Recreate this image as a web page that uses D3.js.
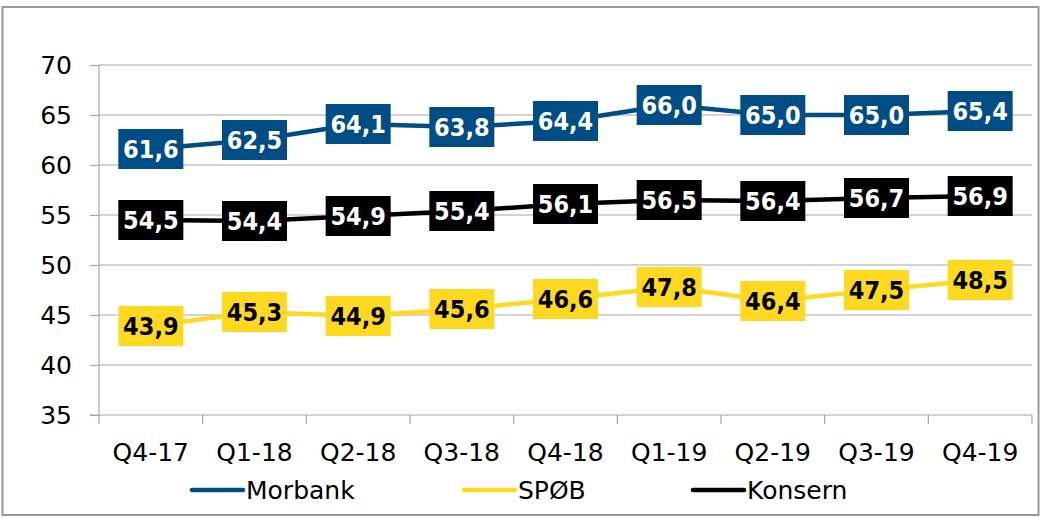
<!DOCTYPE html>
<html><head><meta charset="utf-8">
<script src="https://cdn.jsdelivr.net/npm/d3@7"></script>
<style>body{margin:0;background:#fff}svg{display:block}</style>
</head><body>
<svg id="c" width="1043" height="518"></svg>
<script>
const categories = ["Q4-17","Q1-18","Q2-18","Q3-18","Q4-18","Q1-19","Q2-19","Q3-19","Q4-19"];
const morbank = [61.6,62.5,64.1,63.8,64.4,66.0,65.0,65.0,65.4];
const spob    = [43.9,45.3,44.9,45.6,46.6,47.8,46.4,47.5,48.5];
const konsern = [54.5,54.4,54.9,55.4,56.1,56.5,56.4,56.7,56.9];
const yTicks = [35,40,45,50,55,60,65,70];
const seriesNames = ["Morbank","SPØB","Konsern"];

const series = [
  {name: seriesNames[0], values: morbank, color: "#004C84", text: "#ffffff"},
  {name: seriesNames[1], values: spob, color: "#FFD920", text: "#000000"},
  {name: seriesNames[2], values: konsern, color: "#000000", text: "#ffffff"}
];

const svg = d3.select("#c");
const fam = "'DejaVu Sans', Verdana, sans-serif";
const pL = 99, pR = 1032, pT = 65, pB = 415;

svg.append("rect").attr("x",2.5).attr("y",7).attr("width",1036).attr("height",508)
  .attr("fill","none").attr("stroke","#999").attr("stroke-width",2);

const x = d3.scaleBand().domain(categories).range([pL,pR]).padding(0);
const y = d3.scaleLinear().domain([35,70]).range([pB,pT]);

// gridlines
svg.append("g").selectAll("line").data(yTicks.filter(t=>t>35)).join("line")
  .attr("x1",pL).attr("x2",pR).attr("y1",d=>y(d)).attr("y2",d=>y(d))
  .attr("stroke","#a6a6a6").attr("stroke-width",1.2);

const ya = svg.append("g").attr("transform",`translate(${pL},0)`)
  .call(d3.axisLeft(y).tickValues(yTicks).tickSize(9).tickPadding(18).tickFormat(d3.format("d")));
ya.select(".domain").attr("stroke","#a6a6a6").attr("stroke-width",1.2).attr("d",`M0,${pT}V${pB}`);
ya.selectAll(".tick line").attr("stroke","#a6a6a6").attr("stroke-width",1.2);
ya.selectAll("text").attr("font-family",fam).attr("font-size",25).attr("fill","#000");

// x axis
const xa = svg.append("g").attr("transform",`translate(0,${pB})`);
xa.append("line").attr("x1",pL-9).attr("x2",pR).attr("y1",0).attr("y2",0)
  .attr("stroke","#a6a6a6").attr("stroke-width",1.2);
const bounds = categories.map(c=>x(c)).concat([pR]);
xa.selectAll("line.t").data(bounds).join("line").attr("class","t")
  .attr("x1",d=>d).attr("x2",d=>d).attr("y1",0).attr("y2",9)
  .attr("stroke","#a6a6a6").attr("stroke-width",1.2);
xa.selectAll("text").data(categories).join("text")
  .attr("x",d=>x(d)+x.bandwidth()/2).attr("y",46)
  .attr("text-anchor","middle").attr("font-family",fam).attr("font-size",25).attr("fill","#000")
  .text(d=>d);

const cx = (d,i)=>x(categories[i])+x.bandwidth()/2;
const line = d3.line().x(cx).y(d=>y(d));

series.forEach(s=>{
  svg.append("path").datum(s.values).attr("d",line).attr("fill","none")
    .attr("stroke",s.color).attr("stroke-width",4.5).attr("stroke-linejoin","round");
});
const fmt = v => d3.format(".1f")(v).replace(".",",");
series.forEach(s=>{
  const g = svg.append("g");
  g.selectAll("rect").data(s.values).join("rect")
    .attr("x",(d,i)=>cx(d,i)-32.5).attr("y",d=>y(d)-20).attr("width",65).attr("height",40)
    .attr("fill",s.color);
  g.selectAll("text").data(s.values).join("text")
    .attr("x",cx).attr("y",d=>y(d)+9)
    .attr("text-anchor","middle").attr("font-family","'DejaVu Sans Condensed','DejaVu Sans',sans-serif")
    .attr("font-weight","bold").attr("font-size",25).attr("fill",s.text)
    .text(fmt);
});

// legend
const legX = [192, 464, 693];
series.forEach((s,i)=>{
  svg.append("line").attr("x1",legX[i]).attr("x2",legX[i]+51).attr("y1",490).attr("y2",490)
    .attr("stroke",s.color).attr("stroke-width",4.5).attr("stroke-linecap","round");
  svg.append("text").attr("x",legX[i]+54).attr("y",499).attr("font-family",fam).attr("font-size",25)
    .attr("fill","#000").text(s.name);
});
</script>
</body></html>
